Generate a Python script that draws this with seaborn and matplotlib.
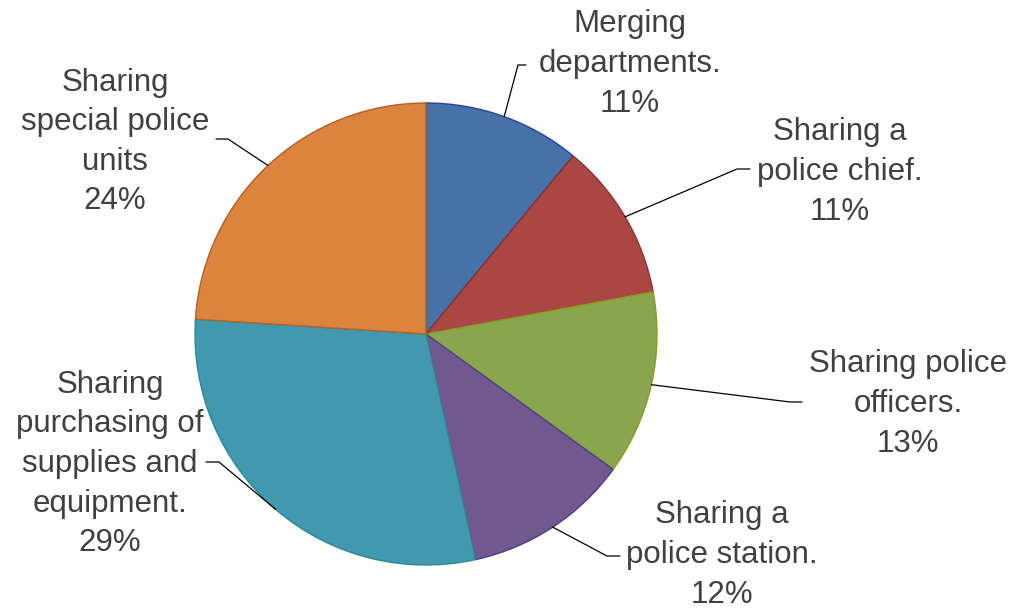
import numpy as np
import matplotlib
matplotlib.use('Agg')
import matplotlib.pyplot as plt
import seaborn as sns

sns.set_theme(style='white')
plt.rcParams['font.family'] = ['Liberation Sans', 'DejaVu Sans']

# data (clockwise from 12 o'clock)
labels = ['Merging\ndepartments.', 'Sharing a\npolice chief.', 'Sharing police\nofficers.',
          'Sharing a\npolice station.', 'Sharing\npurchasing of\nsupplies and\nequipment.',
          'Sharing\nspecial police\nunits']
values = [11.0, 11.1, 12.9, 11.6, 29.5, 24.0]
colors = ['#4572A7', '#AA4643', '#89A54E', '#71588F', '#4198AF', '#DB843D']
edges = ['#2B3F9A', '#8A3230', '#8F9A1E', '#4B3E8A', '#2E8A8F', '#B0602A']

# layout (pixel space, y from top)
W, H = 1022, 610
cx, cy, rad = 426, 334, 231
text_pos = [(630, 64), (840, 172), (908, 404), (722, 555), (110, 464), (115, 142)]
elbow = [(518, 65), (737, 169), (790, 402), (607, 556), (219, 462), (228, 139)]
tick_end = [(526, 65), (750, 169), (802, 402), (620, 556), (206, 462), (216, 139)]

fig = plt.figure(figsize=(W / 100, H / 100), dpi=100)
ax = fig.add_axes([0, 0, 1, 1])

wedges, _ = ax.pie(values, colors=colors, startangle=90, counterclock=False,
                   center=(cx, H - cy), radius=rad, frame=True,
                   wedgeprops=dict(linewidth=1.0))
for w, ec in zip(wedges, edges):
    w.set_edgecolor(ec)
ax.set_xlim(0, W)
ax.set_ylim(0, H)
ax.set_aspect('equal')
ax.axis('off')

total = sum(values)
for i, (lab, v) in enumerate(zip(labels, values)):
    w = wedges[i]
    ang = np.deg2rad((w.theta1 + w.theta2) / 2)
    sx = cx + rad * np.cos(ang)
    sy = H - cy + rad * np.sin(ang)
    ex, ey = elbow[i]
    tx, ty = tick_end[i]
    ax.plot([sx, ex, tx], [sy, H - ey, H - ty], color='black', lw=0.9)
    pct = round(v / total * 100)
    ax.text(text_pos[i][0], H - text_pos[i][1], f'{lab}\n{pct}%', ha='center', va='center',
            fontsize=22.5, color='#404040', linespacing=1.42)

fig.savefig('out.png', dpi=100, facecolor='white')
